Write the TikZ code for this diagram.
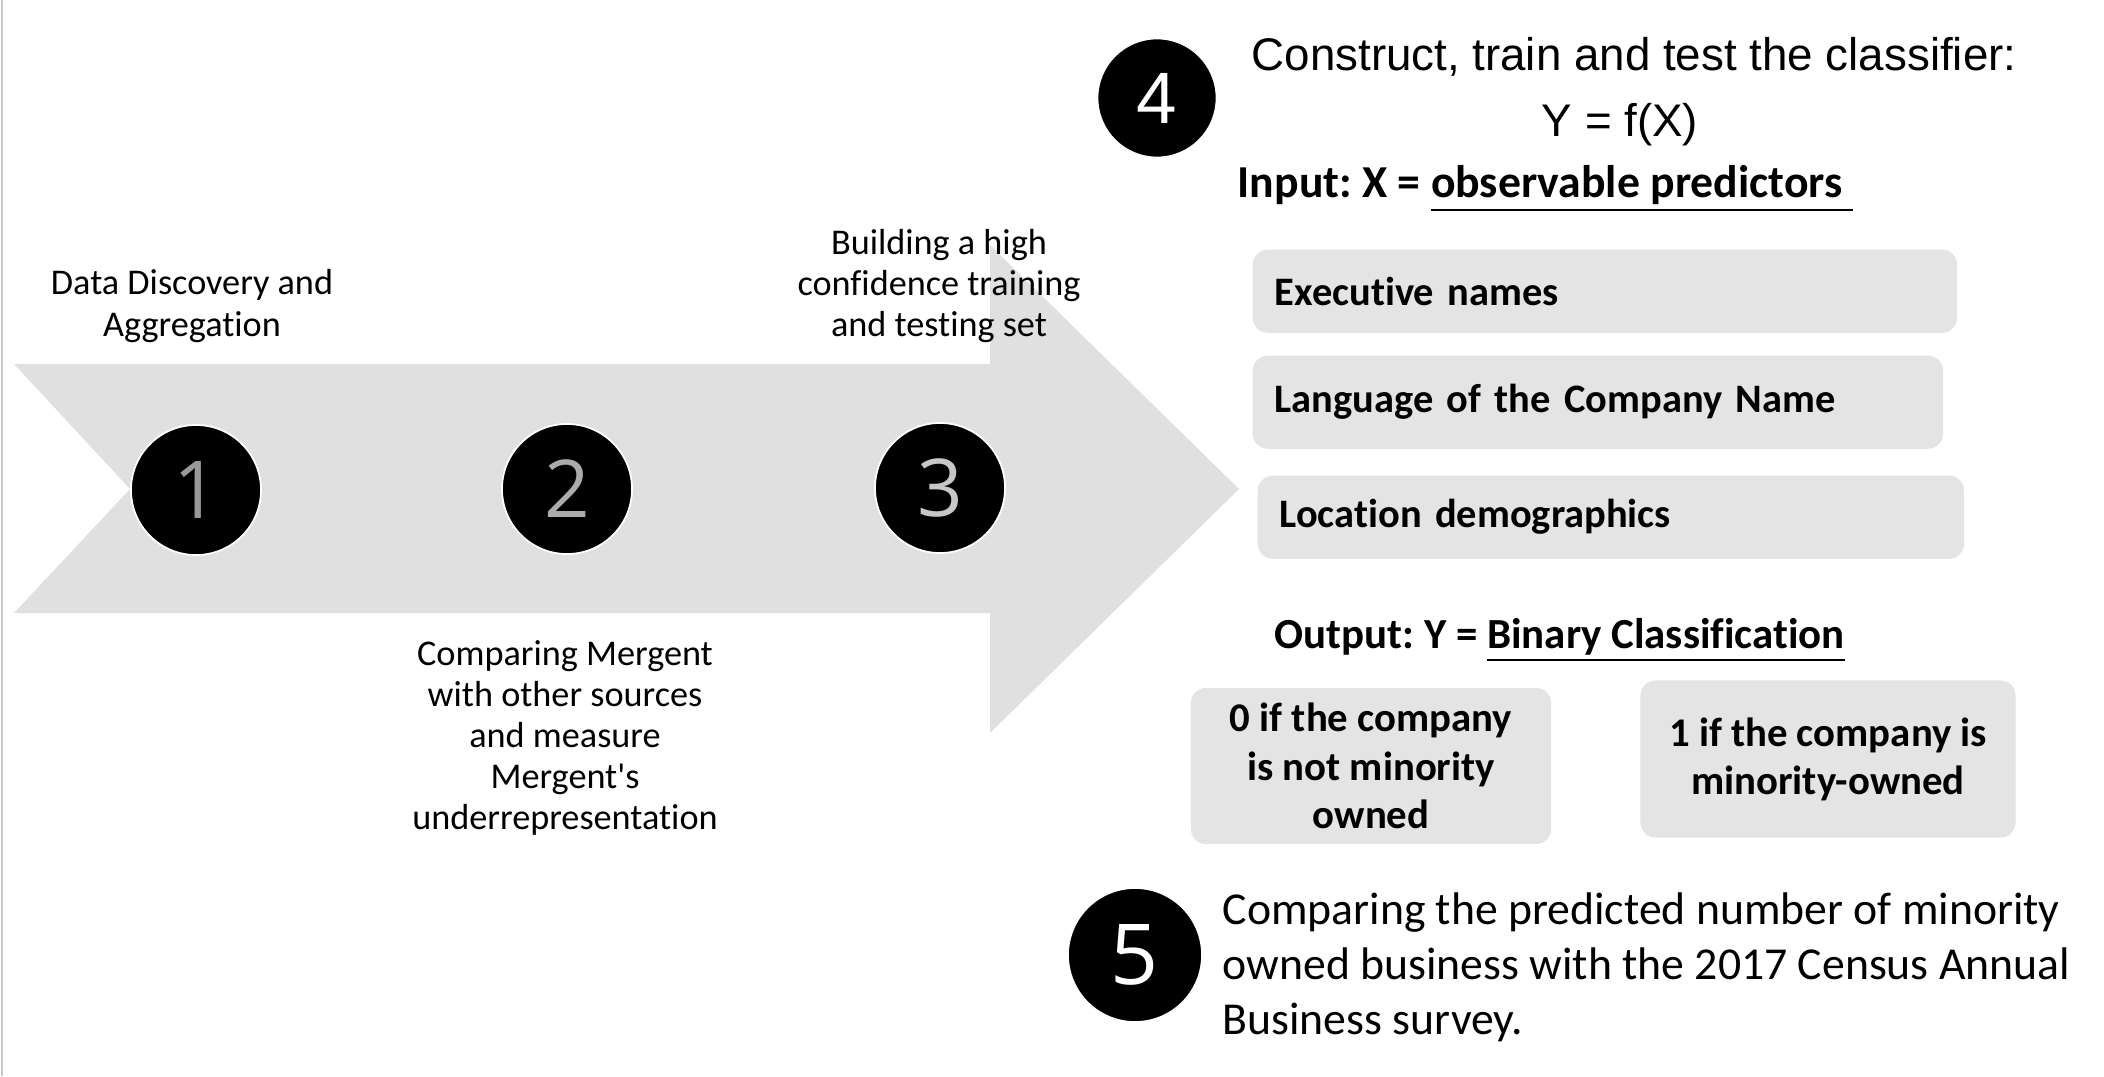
\documentclass[tikz,border=0pt]{standalone}
\usepackage{fontspec}
\setmainfont{Carlito}[Ligatures={TeX,NoCommon}]
\newfontfamily\headfont{Liberation Sans}
\newfontfamily\numfont{Open Sans}
\usepackage{tikz}
\definecolor{band}{gray}{0.878}
\definecolor{pbox}{gray}{0.894}
\definecolor{edge}{gray}{0.78}
\frenchspacing

\begin{document}
\begin{tikzpicture}[x=0.01cm,y=-0.01cm,
  disc/.style={circle,fill=black,draw=white,line width=0.5pt,inner sep=0pt,font=\numfont\fontsize{22.7}{24}\selectfont},
  lab/.style={align=center,font=\fontsize{10.3}{11.7}\selectfont},
  txt/.style={inner sep=0pt,anchor=west},
  pred/.style={fill=pbox,rounded corners=0.15cm,anchor=north west,inner xsep=0.22cm,align=left,font=\bfseries\fontsize{11.5}{13}\selectfont},
  outbox/.style={fill=pbox,rounded corners=0.15cm,align=center,font=\bfseries\fontsize{11.6}{13.7}\selectfont}]
  \useasboundingbox (0,0) rectangle (2104,1076);
  \draw[edge,line width=0.6pt] (2,0) -- (2,1076);
  % process band
  \fill[band] (14,364) -- (990,364) -- (990,245) -- (1239,489) -- (990,733) --
    (990,613) -- (14,613) -- (130,489) -- cycle;
  \foreach \n/\x/\y/\c in {1/196/490/black!40, 2/567/489/black!33, 3/940/488/black!22}
    {\node[disc,minimum size=1.3cm,text=\c] (s\n) at (\x,\y) {\n};}
  \node[lab] (l1) at (192,306) {Data Discovery and\\Aggregation};
  \node[lab] (l2) at (565,738) {Comparing Mergent\\with other sources\\and measure\\Mergent\textquotesingle s\\underrepresentation};
  \node[lab] (l3) at (939,286) {Building a high\\confidence training\\and testing set};
  % classifier
  \node[disc,minimum size=1.19cm,text=white,font=\headfont\fontsize{20.7}{22}\selectfont] (s4) at (1157,98) {4};
  \node[font=\headfont\fontsize{13}{16}\selectfont] (title) at (1634,57) {Construct, train and test the classifier:};
  \node[font=\headfont\fontsize{13}{16}\selectfont] (model) at (1620,125) {Y = f(X)};
  \node[txt,font=\bfseries\fontsize{13}{15}\selectfont] (input) at (1237,189) {Input: X = \underline{observable predictors\ }};
  \node[pred,text width=6.6cm,minimum height=0.83cm] (p1) at (1252,249) {Executive names};
  \node[pred,text width=6.46cm,minimum height=0.93cm] (p2) at (1252,355) {Language of the Company Name};
  \node[pred,text width=6.62cm,minimum height=0.83cm] (p3) at (1257,475) {Location demographics};
  \node[txt,font=\bfseries\fontsize{12.2}{14}\selectfont] (output) at (1274,640) {Output: Y = \underline{Binary Classification}};
  \node[outbox,minimum width=3.6cm,minimum height=1.56cm] (zero) at (1371,766) {0 if the company\\is not minority\\owned};
  \node[outbox,minimum width=3.75cm,minimum height=1.57cm] (one) at (1828,759) {1 if the company is\\minority-owned};
  % comparison
  \node[disc,minimum size=1.34cm,text=white,font=\numfont\fontsize{23.9}{24}\selectfont] (s5) at (1135,955) {5};
  \node[txt,align=left,font=\fontsize{13}{15.6}\selectfont] (compare) at (1222,967) {Comparing the predicted number of minority\\owned business with the 2017 Census Annual\\Business survey.};
\end{tikzpicture}
\end{document}
